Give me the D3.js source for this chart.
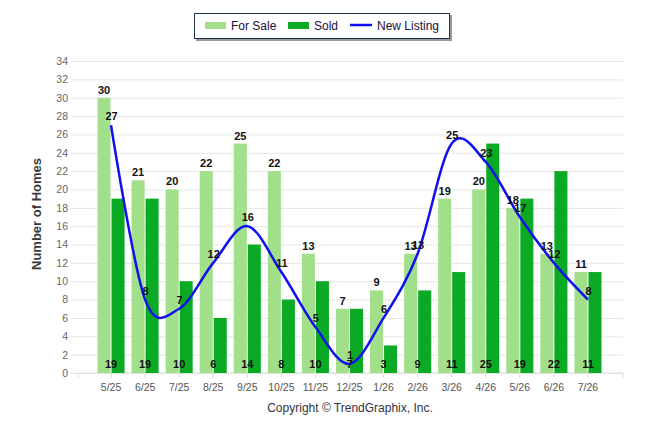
<!DOCTYPE html>
<html>
<head>
<meta charset="utf-8">
<script src="https://cdn.jsdelivr.net/npm/d3@7"></script>
<style>
  body { margin: 0; background: #fff; }
  #chart text { font-family: "Liberation Sans", Arial, sans-serif; }
</style>
</head>
<body>
<div id="chart"></div>
<script>
// Chart data
const months = ["5/25", "6/25", "7/25", "8/25", "9/25", "10/25", "11/25", "12/25",
  "1/26", "2/26", "3/26", "4/26", "5/26", "6/26", "7/26"];
const forSale = [30, 21, 20, 22, 25, 22, 13, 7, 9, 13, 19, 20, 18, 13, 11];
const sold = [19, 19, 10, 6, 14, 8, 10, 7, 3, 9, 11, 25, 19, 22, 11];
const newListing = [27, 8, 7, 12, 16, 11, 5, 1, 6, 13, 25, 23, 17, 12, 8];
const yTicks = [0, 2, 4, 6, 8, 10, 12, 14, 16, 18, 20, 22, 24, 26, 28, 30, 32, 34];
const seriesNames = ["For Sale", "Sold", "New Listing"];

const colors = {forSale: "#a1df8b", sold: "#0baa24", line: "#1010f0"};

function createChart() {
  const width = 646, height = 434;
  const plot = {left: 78, right: 623, top: 61, bottom: 373};

  const svg = d3.select("#chart")
    .append("svg")
    .attr("width", width)
    .attr("height", height);

  // Scales
  const x = d3.scaleBand()
    .domain(months)
    .range([94, 605]);

  const sub = d3.scaleBand()
    .domain(["forSale", "sold"])
    .range([3.5, x.bandwidth() - 3.5])
    .paddingInner(0.07);

  const y = d3.scaleLinear()
    .domain([0, 34])
    .range([plot.bottom, plot.top]);

  // Grid + y labels
  svg.append("g")
    .attr("class", "y-axis")
    .attr("transform", `translate(${plot.left - 7},0)`)
    .call(d3.axisLeft(y).tickValues(yTicks).tickSize(-(plot.right - plot.left + 7)).tickPadding(3))
    .call(g => g.select(".domain").remove())
    .call(g => g.selectAll(".tick line").attr("stroke", "#e6e6e6"))
    .call(g => g.selectAll(".tick text").attr("fill", "#666").attr("font-size", 10.5).attr("x", -3));

  // x axis
  const xAxis = svg.append("g")
    .attr("class", "x-axis")
    .attr("transform", `translate(0,${plot.bottom})`)
    .call(d3.axisBottom(x).tickSize(5).tickPadding(6))
    .call(g => g.select(".domain").remove())
    .call(g => g.selectAll(".tick line").attr("stroke", "#ddd"))
    .call(g => g.selectAll(".tick text").attr("fill", "#555").attr("font-size", 10.5));

  xAxis.append("line")
    .attr("x1", plot.left).attr("x2", plot.right)
    .attr("stroke", "#ddd");
  xAxis.selectAll(".edge")
    .data([plot.left, plot.right])
    .join("line")
    .attr("class", "edge")
    .attr("x1", d => d).attr("x2", d => d)
    .attr("y1", 0).attr("y2", 5)
    .attr("stroke", "#ddd");

  // Bars
  const rows = months.map((m, i) => ({month: m, forSale: forSale[i], sold: sold[i], newListing: newListing[i]}));

  svg.selectAll(".bar.forsale")
    .data(rows)
    .join("rect")
    .attr("class", "bar forsale")
    .attr("x", d => x(d.month) + sub("forSale"))
    .attr("y", d => y(d.forSale))
    .attr("width", sub.bandwidth())
    .attr("height", d => y(0) - y(d.forSale))
    .attr("fill", colors.forSale);

  svg.selectAll(".bar.sold")
    .data(rows)
    .join("rect")
    .attr("class", "bar sold")
    .attr("x", d => x(d.month) + sub("sold"))
    .attr("y", d => y(d.sold))
    .attr("width", sub.bandwidth())
    .attr("height", d => y(0) - y(d.sold))
    .attr("fill", colors.sold);

  // Line
  const cx = d => x(d.month) + x.bandwidth() / 2;
  const line = d3.line()
    .x(cx)
    .y(d => y(d.newListing))
    .curve(d3.curveCardinal.tension(0));

  svg.append("path")
    .datum(rows)
    .attr("class", "line")
    .attr("fill", "none")
    .attr("stroke", colors.line)
    .attr("stroke-width", 2.5)
    .attr("d", line);

  // Value labels
  const labels = svg.append("g")
    .attr("font-size", 11)
    .attr("font-weight", "bold")
    .attr("fill", "#111")
    .attr("text-anchor", "middle");

  labels.selectAll(".lbl-fs")
    .data(rows)
    .join("text")
    .attr("class", "lbl-fs")
    .attr("x", d => x(d.month) + sub("forSale") + sub.bandwidth() / 2)
    .attr("y", d => y(d.forSale) - 4)
    .text(d => d.forSale);

  labels.selectAll(".lbl-sold")
    .data(rows)
    .join("text")
    .attr("class", "lbl-sold")
    .attr("x", cx)
    .attr("y", y(0) - 5)
    .text(d => d.sold);

  labels.selectAll(".lbl-nl")
    .data(rows)
    .join("text")
    .attr("class", "lbl-nl")
    .attr("x", d => cx(d) + 0.5)
    .attr("y", d => y(d.newListing) - 5)
    .text(d => d.newListing);

  // Axis title
  svg.append("text")
    .attr("transform", `translate(41,214) rotate(-90)`)
    .attr("text-anchor", "middle")
    .attr("font-size", 13)
    .attr("font-weight", "bold")
    .attr("fill", "#3a3a3a")
    .text("Number of Homes");

  // Copyright
  svg.append("text")
    .attr("x", 350)
    .attr("y", 412)
    .attr("text-anchor", "middle")
    .attr("font-size", 12)
    .attr("fill", "#334")
    .text("Copyright \u00A9 TrendGraphix, Inc.");

  // Legend
  const legend = svg.append("g").attr("class", "legend");
  legend.append("rect")
    .attr("x", 196).attr("y", 15).attr("width", 256).attr("height", 26)
    .attr("fill", "#9a9a9a");
  legend.append("rect")
    .attr("x", 194.5).attr("y", 13.5).attr("width", 255).attr("height", 25)
    .attr("fill", "#fff")
    .attr("stroke", "#1f2f50");

  legend.append("rect")
    .attr("x", 205).attr("y", 22).attr("width", 21).attr("height", 7)
    .attr("fill", colors.forSale);
  legend.append("rect")
    .attr("x", 288).attr("y", 22).attr("width", 21).attr("height", 7)
    .attr("fill", colors.sold);
  legend.append("line")
    .attr("x1", 350).attr("x2", 372).attr("y1", 25).attr("y2", 25)
    .attr("stroke", colors.line).attr("stroke-width", 2.5);

  legend.selectAll(".leg-text")
    .data(seriesNames)
    .join("text")
    .attr("class", "leg-text")
    .attr("x", (d, i) => [231, 314, 377][i])
    .attr("y", 30)
    .attr("font-size", 12)
    .attr("fill", "#1a1040")
    .text(d => d);

  return svg;
}

window.addEventListener('load', () => {
  createChart();
});
</script>
</body>
</html>
